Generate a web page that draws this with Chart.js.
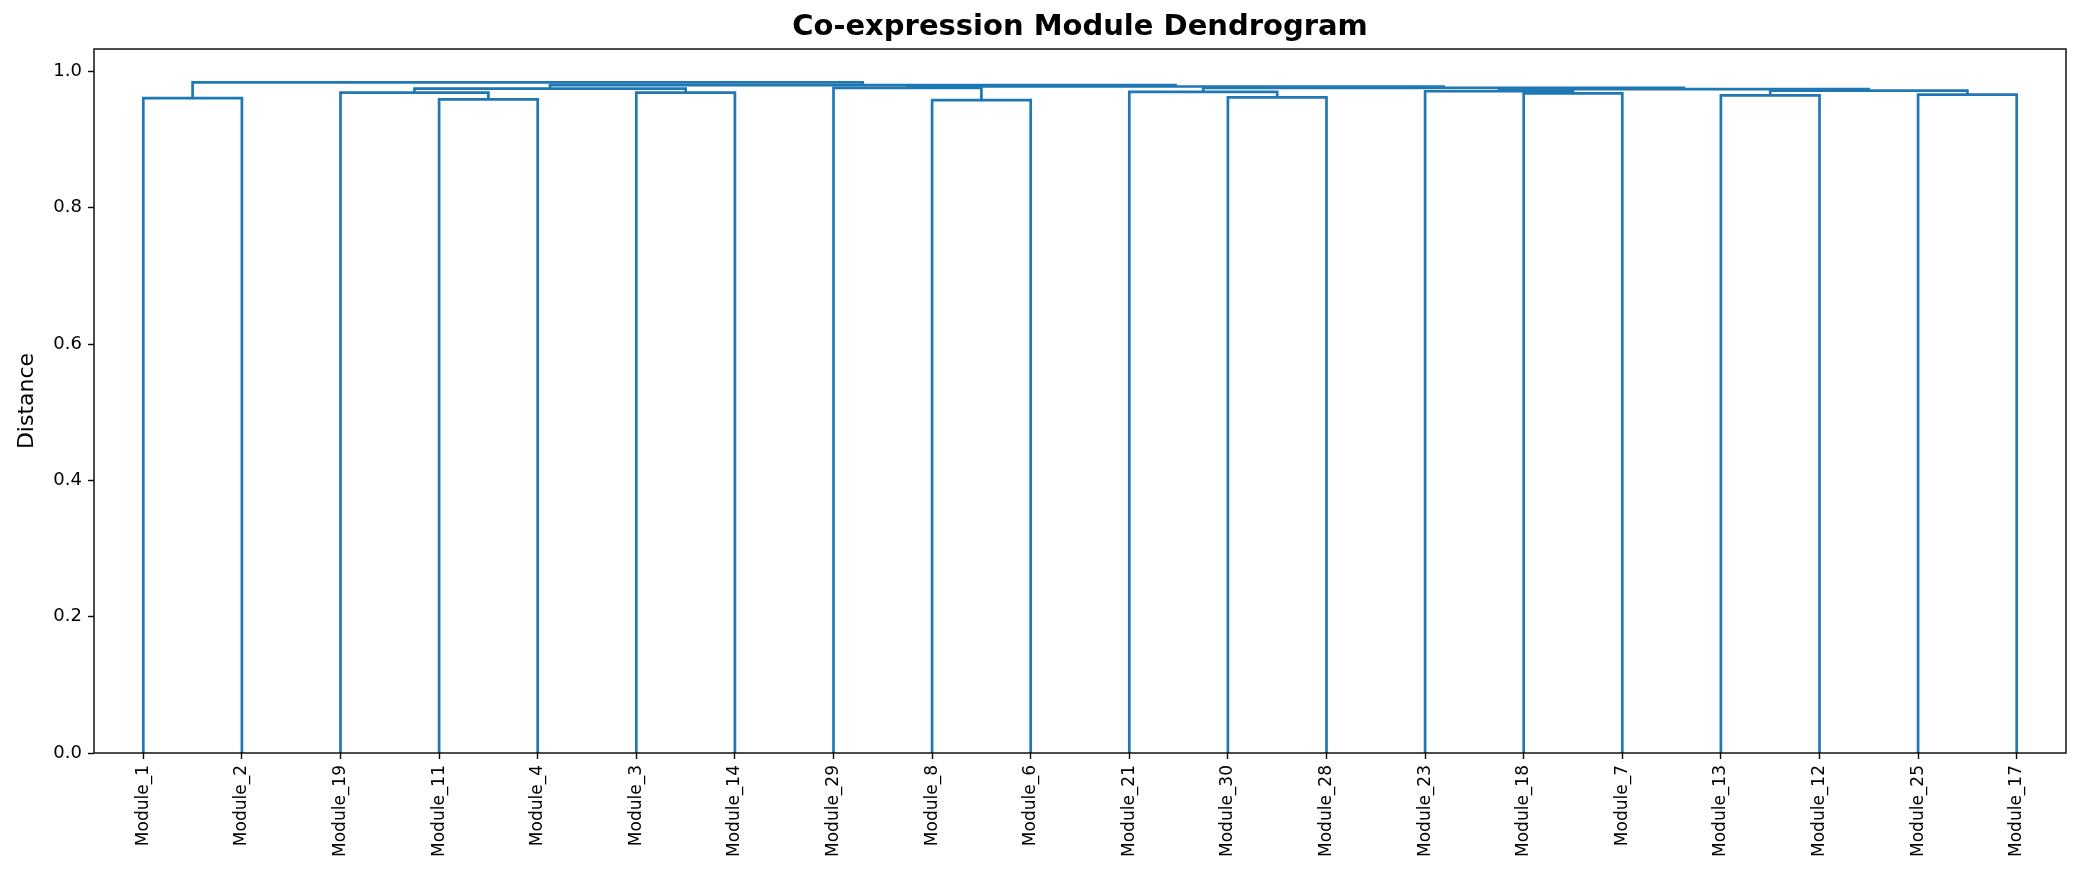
<!DOCTYPE html>
<html>
<head>
<meta charset="utf-8">
<script src="https://cdn.jsdelivr.net/npm/chart.js@4.4.1/dist/chart.umd.min.js"></script>
<style>
  html, body { margin: 0; padding: 0; background: #ffffff; }
  #wrap { width: 2082px; height: 884px; }
</style>
</head>
<body>
<div id="wrap"><canvas id="dendro" width="2082" height="884"></canvas></div>
<script>
"use strict";

// leaves in dendrogram order, left to right
const leafLabels = ['Module_1', 'Module_2', 'Module_19', 'Module_11', 'Module_4', 'Module_3', 'Module_14',
  'Module_29', 'Module_8', 'Module_6', 'Module_21', 'Module_30', 'Module_28', 'Module_23', 'Module_18',
  'Module_7', 'Module_13', 'Module_12', 'Module_25', 'Module_17'];

// linkage rows: ids < 20 are leaf positions, ids >= 20 are earlier rows (20 + row)
const mergeLeft   = [8, 3, 0, 11, 16, 18, 14, 2, 5, 10, 13, 24, 30, 27, 7, 29, 34, 33, 22];
const mergeRight  = [9, 4, 1, 12, 17, 19, 15, 21, 6, 23, 26, 25, 31, 28, 20, 32, 35, 36, 37];
const mergeHeight = [0.958, 0.959, 0.961, 0.962, 0.965, 0.966, 0.968, 0.969, 0.969, 0.970,
  0.971, 0.972, 0.974, 0.975, 0.976, 0.976, 0.978, 0.980, 0.984];

const yTicks = [0.0, 0.2, 0.4, 0.6, 0.8, 1.0];

const TITLE = 'Co-expression Module Dendrogram';
const FONT = "'DejaVu Sans', sans-serif";
const LINE = '#1f77b4';

// node positions, scipy style: leaves at 5, 15, 25 ...
const nodeX = [], nodeY = [];
leafLabels.forEach(function (_, i) { nodeX.push(5 + 10 * i); nodeY.push(0); });

const links = mergeHeight.map(function (h, k) {
  const a = mergeLeft[k], b = mergeRight[k];
  nodeX.push((nodeX[a] + nodeX[b]) / 2);
  nodeY.push(h);
  return [
    {x: nodeX[a], y: nodeY[a]},
    {x: nodeX[a], y: h},
    {x: nodeX[b], y: h},
    {x: nodeX[b], y: nodeY[b]}
  ];
});

// axes box + title centred over the plot area (matplotlib style)
const frame = {
  id: 'frame',
  afterDraw: function (chart) {
    const a = chart.chartArea, ctx = chart.ctx;
    ctx.save();
    ctx.strokeStyle = '#000';
    ctx.lineWidth = 1.4;
    ctx.strokeRect(a.left, a.top, a.right - a.left, a.bottom - a.top);
    ctx.fillStyle = '#000';
    ctx.font = "bold 29px " + FONT;
    ctx.textAlign = 'center';
    ctx.textBaseline = 'middle';
    ctx.fillText(TITLE, (a.left + a.right) / 2, 27);
    ctx.restore();
  }
};

const tickGrid = {
  display: true,
  drawOnChartArea: false,
  drawTicks: true,
  tickLength: 6,
  tickWidth: 1.4,
  tickColor: '#000'
};

new Chart(document.getElementById('dendro'), {
  type: 'scatter',
  data: {
    datasets: links.map(function (pts) {
      return {
        data: pts,
        showLine: true,
        borderColor: LINE,
        borderWidth: 2.7,
        pointRadius: 0,
        pointHoverRadius: 0,
        tension: 0,
        fill: false
      };
    })
  },
  options: {
    responsive: false,
    animation: false,
    devicePixelRatio: 1,
    layout: { padding: { left: 0, right: 16, top: 49, bottom: 0 } },
    plugins: {
      legend: { display: false },
      tooltip: { enabled: false },
      title: { display: false }
    },
    scales: {
      x: {
        type: 'linear',
        min: 0,
        max: 10 * leafLabels.length,
        grid: tickGrid,
        border: { display: false },
        afterBuildTicks: function (scale) {
          scale.ticks = leafLabels.map(function (_, i) { return {value: 5 + 10 * i}; });
        },
        afterFit: function (scale) { scale.height = 131; },
        ticks: {
          autoSkip: false,
          minRotation: 90,
          maxRotation: 90,
          padding: 6,
          color: '#000',
          font: { family: FONT, size: 17 },
          callback: function (v, i) { return leafLabels[i]; }
        }
      },
      y: {
        type: 'linear',
        min: 0,
        max: 1.033,
        grid: tickGrid,
        border: { display: false },
        afterBuildTicks: function (scale) {
          scale.ticks = yTicks.map(function (v) { return {value: v}; });
        },
        afterFit: function (scale) { scale.width = 94; },
        ticks: {
          padding: 6,
          color: '#000',
          font: { family: FONT, size: 18 },
          callback: function (v) { return v.toFixed(1); }
        },
        title: {
          display: true,
          text: 'Distance',
          color: '#000',
          font: { family: FONT, size: 22 },
          padding: { top: 14, bottom: 0 }
        }
      }
    }
  },
  plugins: [frame]
});
</script>
</body>
</html>
